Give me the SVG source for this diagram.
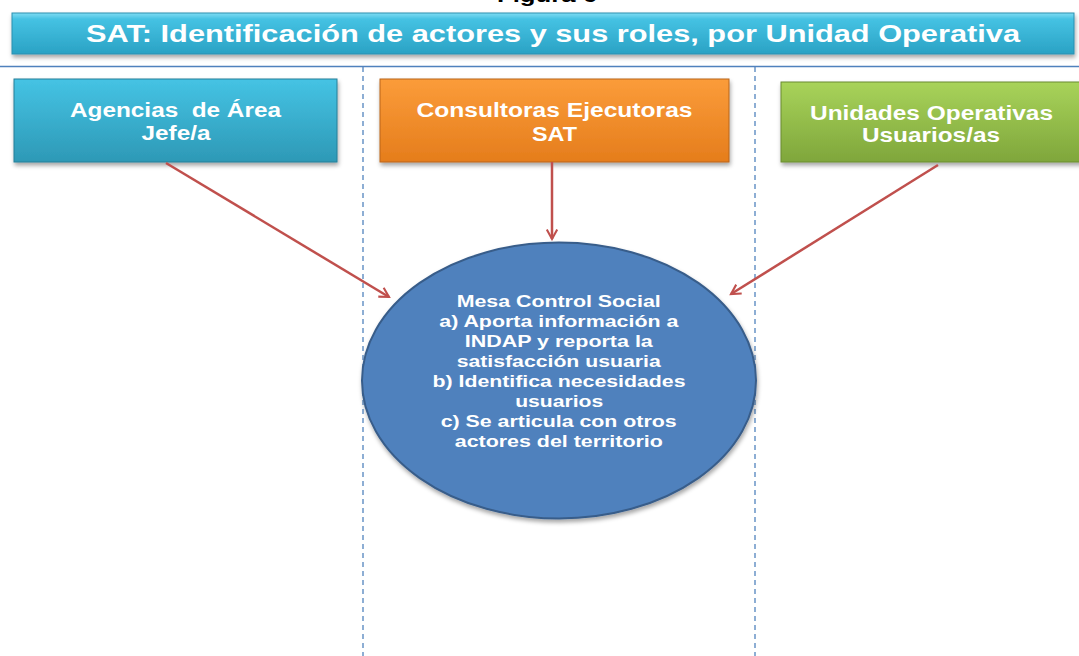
<svg xmlns="http://www.w3.org/2000/svg" width="1079" height="656" viewBox="0 0 1079 656">
  <style>
    .t { font-family: "Liberation Sans", Arial, sans-serif; font-weight: bold; fill: #ffffff; text-anchor: middle; }
    .box { font-size: 20px; }
    .ell { font-size: 16px; }
    .conn { stroke: #c0504d; stroke-width: 2.5; fill: none; marker-end: url(#arr); }
    .guide { stroke: #4f81bd; stroke-width: 1.5; stroke-dasharray: 5 4; opacity: 0.85; }
  </style>
  <defs>
    <linearGradient id="gTitle" x1="0" y1="0" x2="0" y2="1">
      <stop offset="0" stop-color="#7fdcf3"/>
      <stop offset="0.15" stop-color="#45c2e3"/>
      <stop offset="1" stop-color="#2aa2c4"/>
    </linearGradient>
    <linearGradient id="gBlue" x1="0" y1="0" x2="0" y2="1">
      <stop offset="0" stop-color="#45c3e4"/>
      <stop offset="1" stop-color="#2d99b6"/>
    </linearGradient>
    <linearGradient id="gOrange" x1="0" y1="0" x2="0" y2="1">
      <stop offset="0" stop-color="#fb9c3a"/>
      <stop offset="1" stop-color="#e57d1c"/>
    </linearGradient>
    <linearGradient id="gGreen" x1="0" y1="0" x2="0" y2="1">
      <stop offset="0" stop-color="#a8d35a"/>
      <stop offset="1" stop-color="#7fa63b"/>
    </linearGradient>
    <filter id="sh" x="-5%" y="-20%" width="110%" height="150%">
      <feDropShadow dx="1" dy="3" stdDeviation="2" flood-color="#000" flood-opacity="0.35"/>
    </filter>
    <marker id="arr" viewBox="0 0 12 12" refX="10" refY="6" markerWidth="5" markerHeight="5" orient="auto" markerUnits="strokeWidth">
      <path d="M1,1 L10,6 L1,11" fill="none" stroke="#c0504d" stroke-width="2" stroke-linejoin="miter"/>
    </marker>
  </defs>

  <rect width="1079" height="656" fill="#ffffff"/>

  <text class="t" x="547" y="2" style="font-size:20px; fill:#000000" textLength="100" lengthAdjust="spacingAndGlyphs">Figura 6</text>

  <g id="title">
    <rect x="12" y="13" width="1062" height="41" fill="url(#gTitle)" stroke="#2a8fb0" stroke-width="1" filter="url(#sh)"/>
    <text class="t" x="553" y="42" style="font-size:24px" textLength="934" lengthAdjust="spacingAndGlyphs">SAT: Identificación de actores y sus roles, por Unidad Operativa</text>
  </g>

  <g id="guides">
    <line x1="0" y1="66.5" x2="1079" y2="66.5" stroke="#4f81bd" stroke-width="1.5"/>
    <line class="guide" x1="363" y1="67" x2="363" y2="656"/>
    <line class="guide" x1="755" y1="67" x2="755" y2="656"/>
  </g>

  <g id="agencias">
    <rect x="14" y="79" width="323" height="83" fill="url(#gBlue)" stroke="#277f98" stroke-width="1" filter="url(#sh)"/>
    <text class="t box" x="175.5" y="117" textLength="211" lengthAdjust="spacingAndGlyphs">Agencias&#160; de Área</text>
    <text class="t box" x="176" y="140" textLength="69" lengthAdjust="spacingAndGlyphs">Jefe/a</text>
  </g>

  <g id="consultoras">
    <rect x="380" y="79" width="349" height="83" fill="url(#gOrange)" stroke="#b9651a" stroke-width="1" filter="url(#sh)"/>
    <text class="t box" x="554.5" y="117" textLength="276" lengthAdjust="spacingAndGlyphs">Consultoras Ejecutoras</text>
    <text class="t box" x="554.5" y="141" textLength="45" lengthAdjust="spacingAndGlyphs">SAT</text>
  </g>

  <g id="unidades">
    <rect x="781" y="82" width="310" height="80" fill="url(#gGreen)" stroke="#6a8c30" stroke-width="1" filter="url(#sh)"/>
    <text class="t box" x="931.5" y="120" textLength="243" lengthAdjust="spacingAndGlyphs">Unidades Operativas</text>
    <text class="t box" x="931" y="142" textLength="138" lengthAdjust="spacingAndGlyphs">Usuarios/as</text>
  </g>

  <g id="mesa">
    <ellipse cx="559" cy="380.5" rx="197" ry="138" fill="#4f81bd" stroke="#385d8a" stroke-width="2" filter="url(#sh)"/>
    <text class="t ell" x="558.7" y="307" textLength="204" lengthAdjust="spacingAndGlyphs">Mesa Control Social</text>
    <text class="t ell" x="558.8" y="327" textLength="239" lengthAdjust="spacingAndGlyphs">a) Aporta información a</text>
    <text class="t ell" x="558.8" y="347" textLength="188" lengthAdjust="spacingAndGlyphs">INDAP y reporta la</text>
    <text class="t ell" x="558.7" y="367" textLength="204" lengthAdjust="spacingAndGlyphs">satisfacción usuaria</text>
    <text class="t ell" x="559" y="387" textLength="253" lengthAdjust="spacingAndGlyphs">b) Identifica necesidades</text>
    <text class="t ell" x="559.2" y="407" textLength="88" lengthAdjust="spacingAndGlyphs">usuarios</text>
    <text class="t ell" x="558.7" y="427" textLength="236" lengthAdjust="spacingAndGlyphs">c) Se articula con otros</text>
    <text class="t ell" x="558.8" y="447" textLength="208" lengthAdjust="spacingAndGlyphs">actores del territorio</text>
  </g>

  <g id="connectors">
    <line class="conn" x1="166" y1="163" x2="389" y2="297"/>
    <line class="conn" x1="552" y1="162" x2="552" y2="239"/>
    <line class="conn" x1="938" y1="165" x2="731" y2="294"/>
  </g>
</svg>
